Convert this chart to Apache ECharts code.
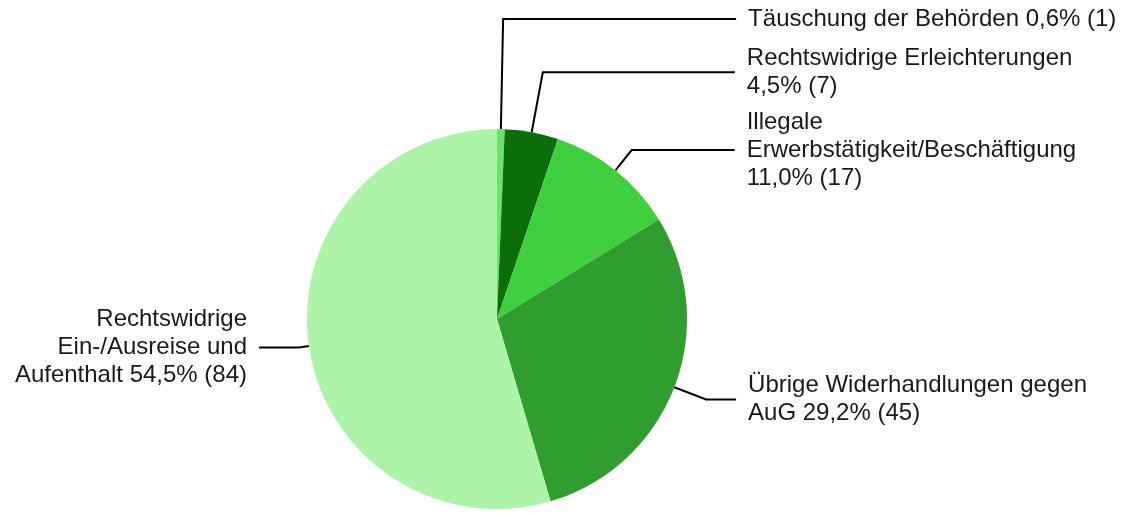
<!DOCTYPE html>
<html>
<head>
<meta charset="utf-8">
<script src="https://cdn.jsdelivr.net/npm/echarts@6/dist/echarts.min.js"></script>
<style>
  html, body { margin: 0; padding: 0; background: #ffffff; }
  #chart { width: 1127px; height: 513px; }
</style>
</head>
<body>
<div id="chart"></div>
<script>
// Offence categories, in clockwise order from 12 o'clock
const categories = [
  'Täuschung der Behörden',
  'Rechtswidrige Erleichterungen',
  'Illegale Erwerbstätigkeit/Beschäftigung',
  'Übrige Widerhandlungen gegen AuG',
  'Rechtswidrige Ein-/Ausreise und Aufenthalt'
];
// Number of cases per category
const counts = [1, 7, 17, 45, 84];
// Label layouts ({p} = share in percent, {v} = count)
const labelTemplates = [
  'Täuschung der Behörden {p} ({v})',
  'Rechtswidrige Erleichterungen\n{p} ({v})',
  'Illegale\nErwerbstätigkeit/Beschäftigung\n{p} ({v})',
  'Übrige Widerhandlungen gegen\nAuG {p} ({v})',
  'Rechtswidrige\nEin-/Ausreise und\nAufenthalt {p} ({v})'
];
const colors = ['#6be26b', '#0b6e0b', '#3fcf3f', '#2f9e2f', '#aef4a8'];
// Leader line lengths (radial part, horizontal part)
const lineLengths = [[110, 233], [61, 192], [26, 103], [34, 30], [10, 40]];

const total = counts.reduce((a, b) => a + b, 0);
const pct = v => (v / total * 100).toFixed(1).replace('.', ',') + '%';

const data = categories.map((name, i) => ({
  name: name,
  value: counts[i],
  itemStyle: { color: colors[i] },
  label: {
    formatter: labelTemplates[i].replace('{p}', pct(counts[i])).replace('{v}', counts[i]),
    align: i === 4 ? 'right' : 'left'
  },
  labelLine: { length: lineLengths[i][0], length2: lineLengths[i][1] }
}));

const chart = echarts.init(document.getElementById('chart'), null, { renderer: 'canvas' });
chart.setOption({
  backgroundColor: '#ffffff',
  animation: false,
  series: [{
    type: 'pie',
    center: [497, 319],
    radius: 190,
    startAngle: 90,
    clockwise: true,
    avoidLabelOverlap: false,
    data: data,
    label: {
      show: true,
      position: 'outside',
      alignTo: 'none',
      distanceToLabelLine: 12,
      fontFamily: '"Liberation Sans", Arial, sans-serif',
      fontSize: 24,
      lineHeight: 28,
      color: '#1a1a1a'
    },
    labelLine: {
      show: true,
      smooth: false,
      lineStyle: { color: '#000000', width: 2 }
    },
    emphasis: { disabled: true }
  }]
});
</script>
</body>
</html>
